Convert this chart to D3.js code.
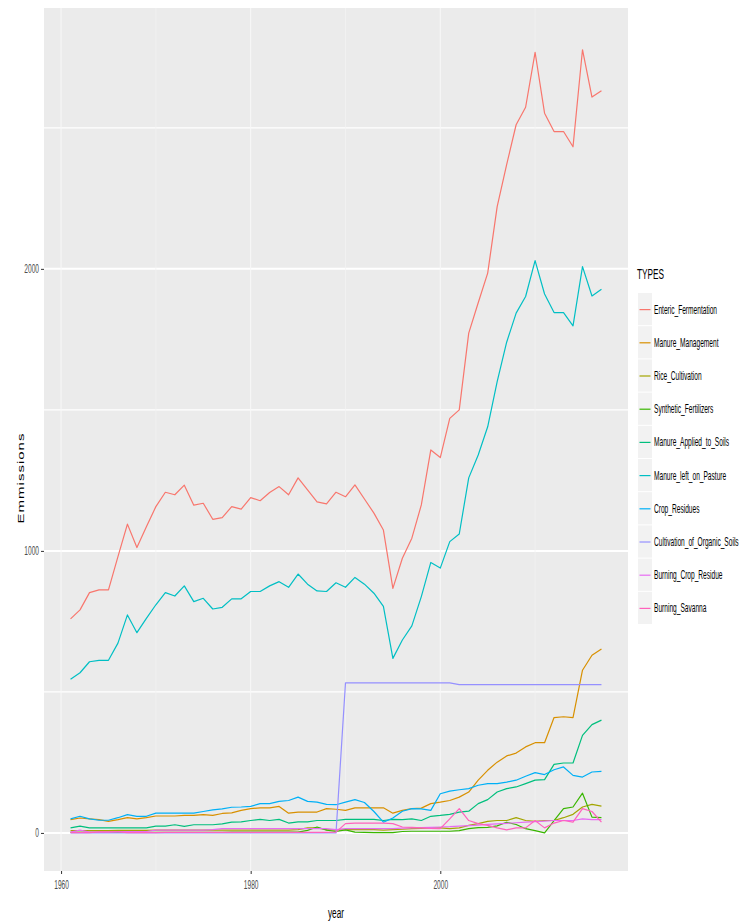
<!DOCTYPE html>
<html>
<head>
<meta charset="utf-8">
<script src="https://cdn.jsdelivr.net/npm/d3@7"></script>
<style>
  body { margin: 0; background: #ffffff; }
  svg { display: block; font-family: "Liberation Sans", Arial, sans-serif; }
</style>
</head>
<body>
<svg width="750" height="924"></svg>
<script>
// years on the x axis
const years = [1961, 1962, 1963, 1964, 1965, 1966, 1967, 1968, 1969, 1970,
               1971, 1972, 1973, 1974, 1975, 1976, 1977, 1978, 1979, 1980,
               1981, 1982, 1983, 1984, 1985, 1986, 1987, 1988, 1989, 1990,
               1991, 1992, 1993, 1994, 1995, 1996, 1997, 1998, 1999, 2000,
               2001, 2002, 2003, 2004, 2005, 2006, 2007, 2008, 2009, 2010,
               2011, 2012, 2013, 2014, 2015, 2016, 2017];

const types = ["Enteric_Fermentation", "Manure_Management", "Rice_Cultivation",
               "Synthetic_Fertilizers", "Manure_Applied_to_Soils", "Manure_left_on_Pasture",
               "Crop_Residues", "Cultivation_of_Organic_Soils", "Burning_Crop_Residue",
               "Burning_Savanna"];

const typeColors = ["#F8766D", "#D89000", "#A3A500", "#39B600", "#00BF7D",
                    "#00BFC4", "#00B0F6", "#9590FF", "#E76BF3", "#FF62BC"];

// values per type, 1961..2017
const entericFermentation = [759, 791, 852, 862, 862, 980, 1095, 1012, 1086, 1157,
                             1208, 1199, 1233, 1162, 1169, 1112, 1118, 1157, 1148, 1189,
                             1178, 1207, 1228, 1199, 1259, 1216, 1174, 1167, 1208, 1192,
                             1234, 1184, 1134, 1074, 867, 974, 1045, 1163, 1358, 1331,
                             1470, 1500, 1772, 1880, 1985, 2221, 2370, 2511, 2573, 2768,
                             2552, 2487, 2487, 2433, 2777, 2609, 2632];
const manureManagement = [47, 53, 50, 47, 41, 47, 54, 50, 54, 60,
                          60, 60, 62, 62, 65, 62, 69, 71, 80, 86,
                          89, 89, 94, 70, 74, 74, 74, 86, 84, 80,
                          89, 89, 89, 89, 70, 80, 86, 88, 104, 109,
                          115, 127, 145, 187, 222, 251, 273, 283, 305, 320,
                          320, 409, 412, 409, 577, 630, 652];
const riceCultivation = [8, 8, 8, 8, 8, 9, 9, 9, 9, 10,
                         10, 10, 10, 10, 10, 10, 10, 10, 10, 10,
                         10, 10, 10, 10, 12, 18, 18, 12, 10, 12,
                         12, 12, 12, 10, 12, 13, 15, 16, 18, 18,
                         15, 18, 27, 33, 41, 44, 44, 54, 44, 41,
                         44, 44, 54, 66, 92, 101, 95];
const syntheticFertilizers = [2, 2, 2, 2, 2, 2, 2, 2, 2, 2,
                              2, 2, 2, 2, 2, 2, 2, 3, 3, 3,
                              3, 3, 3, 3, 3, 9, 21, 10, 5, 11,
                              3, 2, 1, 1, 1, 5, 6, 6, 6, 6,
                              6, 8, 15, 19, 20, 25, 38, 30, 15, 8,
                              0, 44, 86, 92, 141, 56, 54];
const manureAppliedToSoils = [18, 24, 18, 18, 18, 18, 18, 18, 18, 24,
                              24, 29, 23, 29, 29, 29, 32, 38, 39, 44,
                              48, 44, 48, 35, 39, 39, 44, 44, 44, 48,
                              48, 48, 48, 44, 48, 47, 50, 44, 59, 62,
                              66, 74, 77, 104, 118, 145, 157, 163, 175, 187,
                              189, 243, 248, 248, 346, 384, 400];
const manureLeftOnPasture = [545, 568, 607, 612, 612, 673, 773, 710, 761, 809,
                             852, 840, 876, 820, 832, 794, 800, 830, 830, 856,
                             856, 876, 891, 871, 918, 882, 858, 856, 887, 871,
                             906, 882, 850, 803, 619, 684, 734, 838, 959, 939,
                             1033, 1060, 1259, 1340, 1440, 1600, 1740, 1843, 1902, 2029,
                             1911, 1845, 1845, 1798, 2008, 1904, 1928];
const cropResidues = [50, 59, 50, 45, 45, 54, 65, 59, 59, 70,
                      70, 70, 70, 70, 76, 82, 85, 91, 92, 94,
                      104, 104, 112, 115, 127, 112, 109, 101, 100, 109,
                      118, 108, 76, 38, 53, 77, 86, 85, 80, 139,
                      148, 153, 157, 169, 175, 175, 180, 187, 201, 214,
                      207, 224, 234, 204, 198, 216, 218];
const organicSoils = [0, 0, 0, 0, 0, 0, 0, 0, 0, 0,
                      0, 0, 0, 0, 0, 0, 0, 0, 0, 0,
                      0, 0, 0, 0, 0, 0, 0, 0, 0, 532,
                      532, 532, 532, 532, 532, 532, 532, 532, 532, 532,
                      532, 526, 526, 526, 526, 526, 526, 526, 526, 526,
                      526, 526, 526, 526, 526, 526, 526];
const burningCropResidue = [3, 10, 3, 3, 3, 5, 5, 5, 5, 10,
                            10, 10, 10, 10, 10, 12, 15, 15, 15, 15,
                            15, 15, 15, 15, 15, 15, 15, 15, 12, 15,
                            15, 15, 15, 15, 15, 17, 18, 19, 20, 21,
                            22, 24, 26, 28, 30, 32, 34, 36, 38, 40,
                            42, 44, 44, 44, 50, 47, 47];
const burningSavanna = [1, 1, 1, 4, 4, 4, 1, 1, 1, 1,
                        2, 2, 2, 2, 2, 2, 2, 2, 2, 2,
                        2, 2, 2, 2, 2, 2, 2, 2, 3, 33,
                        35, 35, 35, 35, 33, 21, 20, 18, 16, 15,
                        50, 86, 44, 33, 27, 18, 11, 18, 18, 44,
                        18, 35, 44, 38, 86, 76, 38];

const seriesValues = [entericFermentation, manureManagement, riceCultivation,
                      syntheticFertilizers, manureAppliedToSoils, manureLeftOnPasture,
                      cropResidues, organicSoils, burningCropResidue, burningSavanna];

const yTicks = [0, 1000, 2000];
const yMinorTicks = [500, 1500, 2500];
const xTicks = [1960, 1980, 2000];
const xMinorTicks = [1970, 1990, 2010];

// text in the picture is squeezed horizontally
const squeeze = 0.55;

const attr_area = {
    left: 44,
    right: 628,
    top: 8,
    bottom: 871
};

function drawGraph() {
    const svg = d3.select("svg");

    // ggplot-like 5% expansion of the data range
    const xPad = (d3.max(years) - d3.min(years)) * 0.05;
    const scaleX = d3.scaleLinear()
                     .domain([d3.min(years) - xPad, d3.max(years) + xPad])
                     .range([attr_area.left, attr_area.right]);

    const scaleY = d3.scaleLinear()
                     .domain([-135, 2925])
                     .range([attr_area.bottom, attr_area.top]);

    // panel background
    svg.append("rect")
       .attr("x", attr_area.left)
       .attr("y", attr_area.top)
       .attr("width", attr_area.right - attr_area.left)
       .attr("height", attr_area.bottom - attr_area.top)
       .attr("fill", "#EBEBEB");

    createGrid(svg, scaleX, scaleY);
    createLines(svg, scaleX, scaleY);
    createAxis(svg, scaleX, scaleY);
    createLegend(svg);
}

// white grid lines, minor then major
function createGrid(svg, scaleX, scaleY) {
    const grid = svg.append("g");

    grid.selectAll(".hminor").data(yMinorTicks).enter()
        .append("line")
        .attr("x1", attr_area.left).attr("x2", attr_area.right)
        .attr("y1", d => scaleY(d)).attr("y2", d => scaleY(d))
        .attr("stroke", "#ffffff").attr("stroke-width", 1.2);

    grid.selectAll(".hmajor").data(yTicks).enter()
        .append("line")
        .attr("x1", attr_area.left).attr("x2", attr_area.right)
        .attr("y1", d => scaleY(d)).attr("y2", d => scaleY(d))
        .attr("stroke", "#ffffff").attr("stroke-width", 2);

    grid.selectAll(".vminor").data(xMinorTicks).enter()
        .append("line")
        .attr("x1", d => scaleX(d)).attr("x2", d => scaleX(d))
        .attr("y1", attr_area.top).attr("y2", attr_area.bottom)
        .attr("stroke", "#f4f4f4").attr("stroke-width", 0.7);

    grid.selectAll(".vmajor").data(xTicks).enter()
        .append("line")
        .attr("x1", d => scaleX(d)).attr("x2", d => scaleX(d))
        .attr("y1", attr_area.top).attr("y2", attr_area.bottom)
        .attr("stroke", "#f8f8f8").attr("stroke-width", 1);
}

// one line per type
function createLines(svg, scaleX, scaleY) {
    const lineGenerator = d3.line()
        .x((d, i) => scaleX(years[i]))
        .y(d => scaleY(d));

    svg.append("g")
       .selectAll("path")
       .data(seriesValues)
       .enter()
       .append("path")
       .attr("fill", "none")
       .attr("stroke", (d, i) => typeColors[i])
       .attr("stroke-width", 1.2)
       .attr("stroke-linejoin", "round")
       .attr("d", lineGenerator);
}

function createAxis(svg, scaleX, scaleY) {
    const axisY = d3.axisLeft(scaleY).tickValues(yTicks).tickFormat(d3.format("d"))
                    .tickSize(3).tickPadding(2);
    const axisX = d3.axisBottom(scaleX).tickValues(xTicks).tickFormat(d3.format("d"))
                    .tickSize(3).tickPadding(6);

    const gY = svg.append("g")
        .attr("transform", `translate(${attr_area.left}, 0)`)
        .call(axisY);
    gY.select(".domain").remove();
    gY.selectAll("line").attr("stroke", "#333333");
    gY.selectAll("text")
      .attr("fill", "#4D4D4D")
      .style("font-size", "12px")
      .attr("x", -5 / squeeze)
      .attr("transform", `scale(${squeeze},1)`);

    const gX = svg.append("g")
        .attr("transform", `translate(0, ${attr_area.bottom})`)
        .call(axisX);
    gX.select(".domain").remove();
    gX.selectAll("line").attr("stroke", "#333333");
    gX.selectAll("text")
      .attr("fill", "#4D4D4D")
      .style("font-size", "12px")
      .attr("transform", `scale(${squeeze},1)`);

    // axis titles
    svg.append("text")
       .attr("transform", `translate(${(attr_area.left + attr_area.right) / 2}, 918) scale(${squeeze},1)`)
       .attr("text-anchor", "middle")
       .style("font-size", "15px")
       .attr("fill", "#000000")
       .text("year");

    svg.append("text")
       .attr("transform", `translate(24, 478) rotate(-90) scale(1,${squeeze + 0.1})`)
       .attr("text-anchor", "middle")
       .style("font-size", "15px")
       .style("letter-spacing", "1px")
       .attr("fill", "#000000")
       .text("Emmissions");
}

function createLegend(svg) {
    const legend = svg.append("g").attr("transform", "translate(637, 0)");

    legend.append("text")
          .attr("transform", `translate(0, 279) scale(${squeeze},1)`)
          .style("font-size", "15px")
          .attr("fill", "#000000")
          .text("TYPES");

    const rowH = 33.2;
    const firstY = 293;

    const rows = legend.selectAll(".key")
        .data(types)
        .enter()
        .append("g")
        .attr("transform", (d, i) => `translate(0, ${firstY + i * rowH})`);

    rows.append("rect")
        .attr("x", 1).attr("y", 0)
        .attr("width", 14).attr("height", rowH - 1)
        .attr("fill", "#F2F2F2");

    rows.append("line")
        .attr("x1", 2.5).attr("x2", 13.5)
        .attr("y1", rowH / 2).attr("y2", rowH / 2)
        .attr("stroke", (d, i) => typeColors[i])
        .attr("stroke-width", 1.2);

    rows.append("text")
        .attr("transform", `translate(17, ${rowH / 2 + 4}) scale(${squeeze},1)`)
        .style("font-size", "12px")
        .attr("fill", "#000000")
        .text(d => d);
}

drawGraph();
</script>
</body>
</html>
